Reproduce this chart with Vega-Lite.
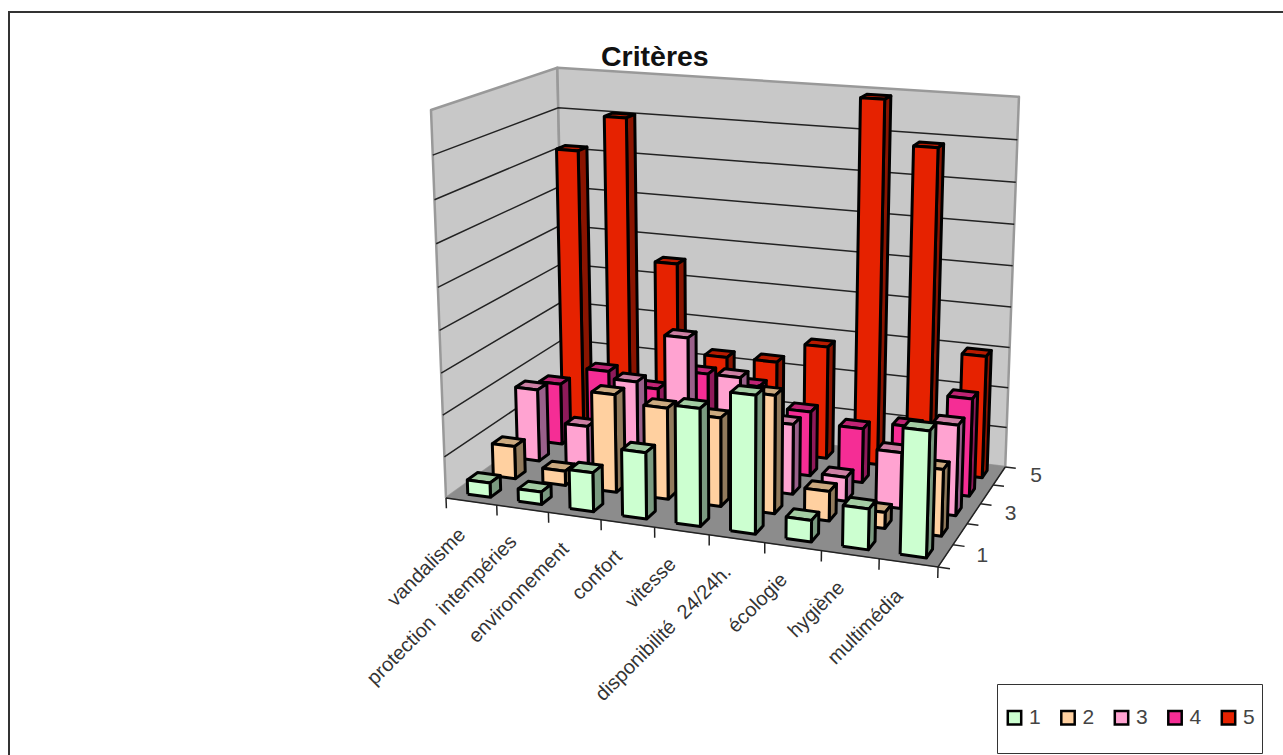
{
  "$schema": "https://vega.github.io/schema/vega-lite/v6.json",
  "width": 1276,
  "height": 745,
  "padding": {"left": 9, "top": 12, "right": 0, "bottom": 0},
  "autosize": {"type": "none"},
  "background": "white",
  "config": {
    "view": {"stroke": "#333333", "strokeWidth": 2},
    "font": "Liberation Sans"
  },
  "title": {
    "text": "Critères",
    "anchor": "start",
    "frame": "group",
    "dx": 592,
    "offset": -82,
    "baseline": "alphabetic",
    "fontSize": 28.5,
    "fontWeight": "bold",
    "color": "#111111",
    "font": "Liberation Sans"
  },
  "datasets": {
    "criteres": [
      {"critere": "vandalisme", "serie": 5, "valeur": 7.14},
      {"critere": "protection  intempéries", "serie": 5, "valeur": 8.04},
      {"critere": "environnement", "serie": 5, "valeur": 4.52},
      {"critere": "confort", "serie": 5, "valeur": 2.28},
      {"critere": "vitesse", "serie": 5, "valeur": 2.3},
      {"critere": "disponibilité  24/24h.", "serie": 5, "valeur": 2.82},
      {"critere": "écologie", "serie": 5, "valeur": 8.9},
      {"critere": "hygiène", "serie": 5, "valeur": 7.86},
      {"critere": "multimédia", "serie": 5, "valeur": 3.0},
      {"critere": "vandalisme", "serie": 4, "valeur": 1.55},
      {"critere": "protection  intempéries", "serie": 4, "valeur": 2.02},
      {"critere": "environnement", "serie": 4, "valeur": 1.72},
      {"critere": "confort", "serie": 4, "valeur": 2.24},
      {"critere": "vitesse", "serie": 4, "valeur": 2.07},
      {"critere": "disponibilité  24/24h.", "serie": 4, "valeur": 1.59},
      {"critere": "écologie", "serie": 4, "valeur": 1.33},
      {"critere": "hygiène", "serie": 4, "valeur": 1.52},
      {"critere": "multimédia", "serie": 4, "valeur": 2.36},
      {"critere": "vandalisme", "serie": 3, "valeur": 1.8},
      {"critere": "protection  intempéries", "serie": 3, "valeur": 1.03},
      {"critere": "environnement", "serie": 3, "valeur": 2.29},
      {"critere": "confort", "serie": 3, "valeur": 3.5},
      {"critere": "vitesse", "serie": 3, "valeur": 2.68},
      {"critere": "disponibilité  24/24h.", "serie": 3, "valeur": 1.7},
      {"critere": "écologie", "serie": 3, "valeur": 0.58},
      {"critere": "hygiène", "serie": 3, "valeur": 1.34},
      {"critere": "multimédia", "serie": 3, "valeur": 2.15},
      {"critere": "vandalisme", "serie": 2, "valeur": 0.8},
      {"critere": "protection  intempéries", "serie": 2, "valeur": 0.35},
      {"critere": "environnement", "serie": 2, "valeur": 2.37},
      {"critere": "confort", "serie": 2, "valeur": 2.2},
      {"critere": "vitesse", "serie": 2, "valeur": 2.12},
      {"critere": "disponibilité  24/24h.", "serie": 2, "valeur": 2.8},
      {"critere": "écologie", "serie": 2, "valeur": 0.7},
      {"critere": "hygiène", "serie": 2, "valeur": 0.38},
      {"critere": "multimédia", "serie": 2, "valeur": 1.55},
      {"critere": "vandalisme", "serie": 1, "valeur": 0.35},
      {"critere": "protection  intempéries", "serie": 1, "valeur": 0.3},
      {"critere": "environnement", "serie": 1, "valeur": 0.93},
      {"critere": "confort", "serie": 1, "valeur": 1.57},
      {"critere": "vitesse", "serie": 1, "valeur": 2.75},
      {"critere": "disponibilité  24/24h.", "serie": 1, "valeur": 3.2},
      {"critere": "écologie", "serie": 1, "valeur": 0.5},
      {"critere": "hygiène", "serie": 1, "valeur": 0.94},
      {"critere": "multimédia", "serie": 1, "valeur": 2.86}
    ],
    "plans": [
      {"plan": "gauche", "ordre": 0, "c": 0, "p": 0, "h": 0},
      {"plan": "gauche", "ordre": 1, "c": 0, "p": 5, "h": 0},
      {"plan": "gauche", "ordre": 2, "c": 0, "p": 5, "h": 9},
      {"plan": "gauche", "ordre": 3, "c": 0, "p": 0, "h": 9},
      {"plan": "gauche", "ordre": 4, "c": 0, "p": 0, "h": 0},
      {"plan": "fond", "ordre": 0, "c": 0, "p": 5, "h": 0},
      {"plan": "fond", "ordre": 1, "c": 9, "p": 5, "h": 0},
      {"plan": "fond", "ordre": 2, "c": 9, "p": 5, "h": 9},
      {"plan": "fond", "ordre": 3, "c": 0, "p": 5, "h": 9},
      {"plan": "fond", "ordre": 4, "c": 0, "p": 5, "h": 0},
      {"plan": "sol", "ordre": 0, "c": 0, "p": 0, "h": 0},
      {"plan": "sol", "ordre": 1, "c": 9, "p": 0, "h": 0},
      {"plan": "sol", "ordre": 2, "c": 9, "p": 5, "h": 0},
      {"plan": "sol", "ordre": 3, "c": 0, "p": 5, "h": 0},
      {"plan": "sol", "ordre": 4, "c": 0, "p": 0, "h": 0}
    ],
    "traits": [
      {"trait": "g1", "ordre": 0, "c": 0, "p": 0, "h": 1},
      {"trait": "g1", "ordre": 1, "c": 0, "p": 5, "h": 1},
      {"trait": "g1", "ordre": 2, "c": 9, "p": 5, "h": 1},
      {"trait": "g2", "ordre": 0, "c": 0, "p": 0, "h": 2},
      {"trait": "g2", "ordre": 1, "c": 0, "p": 5, "h": 2},
      {"trait": "g2", "ordre": 2, "c": 9, "p": 5, "h": 2},
      {"trait": "g3", "ordre": 0, "c": 0, "p": 0, "h": 3},
      {"trait": "g3", "ordre": 1, "c": 0, "p": 5, "h": 3},
      {"trait": "g3", "ordre": 2, "c": 9, "p": 5, "h": 3},
      {"trait": "g4", "ordre": 0, "c": 0, "p": 0, "h": 4},
      {"trait": "g4", "ordre": 1, "c": 0, "p": 5, "h": 4},
      {"trait": "g4", "ordre": 2, "c": 9, "p": 5, "h": 4},
      {"trait": "g5", "ordre": 0, "c": 0, "p": 0, "h": 5},
      {"trait": "g5", "ordre": 1, "c": 0, "p": 5, "h": 5},
      {"trait": "g5", "ordre": 2, "c": 9, "p": 5, "h": 5},
      {"trait": "g6", "ordre": 0, "c": 0, "p": 0, "h": 6},
      {"trait": "g6", "ordre": 1, "c": 0, "p": 5, "h": 6},
      {"trait": "g6", "ordre": 2, "c": 9, "p": 5, "h": 6},
      {"trait": "g7", "ordre": 0, "c": 0, "p": 0, "h": 7},
      {"trait": "g7", "ordre": 1, "c": 0, "p": 5, "h": 7},
      {"trait": "g7", "ordre": 2, "c": 9, "p": 5, "h": 7},
      {"trait": "g8", "ordre": 0, "c": 0, "p": 0, "h": 8},
      {"trait": "g8", "ordre": 1, "c": 0, "p": 5, "h": 8},
      {"trait": "g8", "ordre": 2, "c": 9, "p": 5, "h": 8},
      {"trait": "axe", "ordre": 0, "c": 0, "p": 0, "h": 0},
      {"trait": "axe", "ordre": 1, "c": 9, "p": 0, "h": 0},
      {"trait": "axe", "ordre": 2, "c": 9, "p": 5, "h": 0},
      {"trait": "t0", "ordre": 0, "c": 0, "p": 0, "h": 0},
      {"trait": "t0", "ordre": 1, "c": 0, "p": 0, "h": -0.25},
      {"trait": "t1", "ordre": 0, "c": 1, "p": 0, "h": 0},
      {"trait": "t1", "ordre": 1, "c": 1, "p": 0, "h": -0.25},
      {"trait": "t2", "ordre": 0, "c": 2, "p": 0, "h": 0},
      {"trait": "t2", "ordre": 1, "c": 2, "p": 0, "h": -0.25},
      {"trait": "t3", "ordre": 0, "c": 3, "p": 0, "h": 0},
      {"trait": "t3", "ordre": 1, "c": 3, "p": 0, "h": -0.25},
      {"trait": "t4", "ordre": 0, "c": 4, "p": 0, "h": 0},
      {"trait": "t4", "ordre": 1, "c": 4, "p": 0, "h": -0.25},
      {"trait": "t5", "ordre": 0, "c": 5, "p": 0, "h": 0},
      {"trait": "t5", "ordre": 1, "c": 5, "p": 0, "h": -0.25},
      {"trait": "t6", "ordre": 0, "c": 6, "p": 0, "h": 0},
      {"trait": "t6", "ordre": 1, "c": 6, "p": 0, "h": -0.25},
      {"trait": "t7", "ordre": 0, "c": 7, "p": 0, "h": 0},
      {"trait": "t7", "ordre": 1, "c": 7, "p": 0, "h": -0.25},
      {"trait": "t8", "ordre": 0, "c": 8, "p": 0, "h": 0},
      {"trait": "t8", "ordre": 1, "c": 8, "p": 0, "h": -0.25},
      {"trait": "t9", "ordre": 0, "c": 9, "p": 0, "h": 0},
      {"trait": "t9", "ordre": 1, "c": 9, "p": 0, "h": -0.25},
      {"trait": "d0", "ordre": 0, "c": 9, "p": 0, "h": 0},
      {"trait": "d0", "ordre": 1, "c": 9.2, "p": 0, "h": 0},
      {"trait": "d1", "ordre": 0, "c": 9, "p": 1, "h": 0},
      {"trait": "d1", "ordre": 1, "c": 9.2, "p": 1, "h": 0},
      {"trait": "d2", "ordre": 0, "c": 9, "p": 2, "h": 0},
      {"trait": "d2", "ordre": 1, "c": 9.2, "p": 2, "h": 0},
      {"trait": "d3", "ordre": 0, "c": 9, "p": 3, "h": 0},
      {"trait": "d3", "ordre": 1, "c": 9.2, "p": 3, "h": 0},
      {"trait": "d4", "ordre": 0, "c": 9, "p": 4, "h": 0},
      {"trait": "d4", "ordre": 1, "c": 9.2, "p": 4, "h": 0},
      {"trait": "d5", "ordre": 0, "c": 9, "p": 5, "h": 0},
      {"trait": "d5", "ordre": 1, "c": 9.2, "p": 5, "h": 0}
    ]
  },
  "layer": [
    {
      "description": "Walls of the 3D box",
      "data": {"name": "plans"},
      "transform": [
        {"filter": "datum.plan != 'sol'"},
        {"calculate": "(446+417*datum.c/9+192.5*datum.p/5-36.55*datum.h/9)/(1-0.08*datum.c/9+0.13*datum.p/5-0.05*datum.h/9)", "as": "px"},
        {"calculate": "(498+23.64*datum.c/9-31.3*datum.p/5-393.5*datum.h/9)/(1-0.08*datum.c/9+0.13*datum.p/5-0.05*datum.h/9)", "as": "py"}
      ],
      "mark": {"type": "line", "filled": true, "fill": "#c8c8c8", "stroke": "#999999", "strokeWidth": 2.5, "strokeJoin": "round"},
      "encoding": {
        "x": {"field": "px", "type": "quantitative", "scale": {"domain": [9, 1285], "nice": false, "zero": false}, "axis": null},
        "y": {"field": "py", "type": "quantitative", "scale": {"domain": [757, 12], "nice": false, "zero": false}, "axis": null},
        "detail": {"field": "plan"},
        "order": {"field": "ordre"}
      }
    },
    {
      "description": "Floor of the 3D box",
      "data": {"name": "plans"},
      "transform": [
        {"filter": "datum.plan == 'sol'"},
        {"calculate": "(446+417*datum.c/9+192.5*datum.p/5-36.55*datum.h/9)/(1-0.08*datum.c/9+0.13*datum.p/5-0.05*datum.h/9)", "as": "px"},
        {"calculate": "(498+23.64*datum.c/9-31.3*datum.p/5-393.5*datum.h/9)/(1-0.08*datum.c/9+0.13*datum.p/5-0.05*datum.h/9)", "as": "py"}
      ],
      "mark": {"type": "line", "filled": true, "fill": "#8c8c8c", "stroke": "#8c8c8c", "strokeWidth": 1},
      "encoding": {
        "x": {"field": "px", "type": "quantitative"},
        "y": {"field": "py", "type": "quantitative"},
        "detail": {"field": "plan"},
        "order": {"field": "ordre"}
      }
    },
    {
      "description": "Gridlines, floor axes and ticks",
      "data": {"name": "traits"},
      "transform": [
        {"calculate": "(446+417*datum.c/9+192.5*datum.p/5-36.55*datum.h/9)/(1-0.08*datum.c/9+0.13*datum.p/5-0.05*datum.h/9)", "as": "px"},
        {"calculate": "(498+23.64*datum.c/9-31.3*datum.p/5-393.5*datum.h/9)/(1-0.08*datum.c/9+0.13*datum.p/5-0.05*datum.h/9)", "as": "py"}
      ],
      "mark": {"type": "line", "stroke": "#222222", "strokeWidth": 1.5},
      "encoding": {
        "x": {"field": "px", "type": "quantitative"},
        "y": {"field": "py", "type": "quantitative"},
        "detail": {"field": "trait"},
        "order": {"field": "ordre"}
      }
    },
    {
      "description": "Bar faces, painted from the back row to the front row",
      "data": {"name": "criteres"},
      "transform": [
        {"calculate": "indexof(['vandalisme','protection  intempéries','environnement','confort','vitesse','disponibilité  24/24h.','écologie','hygiène','multimédia'], datum.critere)", "as": "rang"},
        {"calculate": "['dessus','cote','face']", "as": "cote"},
        {"flatten": ["cote"]},
        {"calculate": "[0,1,2,3,4]", "as": "ordre"},
        {"flatten": ["ordre"]},
        {"calculate": "datum.ordre % 4", "as": "k"},
        {"calculate": "datum.rang + 0.5 + 0.225 * (datum.cote == 'cote' ? 1 : [-1,1,1,-1][datum.k])", "as": "c"},
        {"calculate": "datum.serie - 0.5 + 0.2 * (datum.cote == 'face' ? -1 : datum.cote == 'cote' ? [-1,1,1,-1][datum.k] : [-1,-1,1,1][datum.k])", "as": "p"},
        {"calculate": "datum.cote == 'dessus' ? datum.valeur : datum.valeur * [0,0,1,1][datum.k]", "as": "h"},
        {"calculate": "(446+417*datum.c/9+192.5*datum.p/5-36.55*datum.h/9)/(1-0.08*datum.c/9+0.13*datum.p/5-0.05*datum.h/9)", "as": "px"},
        {"calculate": "(498+23.64*datum.c/9-31.3*datum.p/5-393.5*datum.h/9)/(1-0.08*datum.c/9+0.13*datum.p/5-0.05*datum.h/9)", "as": "py"},
        {"calculate": "datum.cote == 'face' ? '' + datum.serie : datum.serie + ' ' + datum.cote", "as": "teinte"},
        {"calculate": "datum.serie + '-' + datum.rang + '-' + datum.cote", "as": "piece"}
      ],
      "mark": {"type": "line", "filled": true, "stroke": "#000000", "strokeWidth": 3, "strokeJoin": "round"},
      "encoding": {
        "x": {"field": "px", "type": "quantitative"},
        "y": {"field": "py", "type": "quantitative"},
        "detail": {"field": "piece"},
        "order": {"field": "ordre"},
        "color": {
          "field": "teinte",
          "type": "nominal",
          "scale": {
            "domain": ["1","2","3","4","5","1 cote","2 cote","3 cote","4 cote","5 cote","1 dessus","2 dessus","3 dessus","4 dessus","5 dessus"],
            "range": ["#ccffd0","#ffd0a0","#ffa3d1","#f52d95","#e62200","#7a9a80","#917a5c","#99608a","#8f1a5a","#8a1400","#a3cca3","#ccaa80","#cc7fa3","#c02475","#b81b00"]
          },
          "legend": {
            "values": ["1","2","3","4","5"],
            "title": " ",
            "titleFontSize": 10,
            "titleLineHeight": 10,
            "titlePadding": 6,
            "orient": "none",
            "legendX": 988,
            "legendY": 672,
            "direction": "horizontal",
            "columns": 5,
            "padding": 7,
            "strokeColor": "#333333",
            "fillColor": "white",
            "symbolType": "square",
            "symbolSize": 180,
            "symbolStrokeColor": "#000000",
            "symbolStrokeWidth": 2.5,
            "symbolOpacity": 1,
            "labelFontSize": 21,
            "labelFont": "Liberation Sans",
            "labelColor": "#444444",
            "labelOffset": 4,
            "columnPadding": 14.5,
            "encode": {
              "labels": {"update": {"text": {"signal": "[' ', datum.label, ' ']"}, "lineHeight": {"value": 18}, "dy": {"value": -18}}}
            }
          }
        }
      }
    },
    {
      "description": "Category names under the front edge",
      "data": {"name": "criteres"},
      "transform": [
        {"filter": "datum.serie == 1"},
        {"calculate": "indexof(['vandalisme','protection  intempéries','environnement','confort','vitesse','disponibilité  24/24h.','écologie','hygiène','multimédia'], datum.critere) + 0.5", "as": "c"},
        {"calculate": "(446+417*datum.c/9)/(1-0.08*datum.c/9)", "as": "px"},
        {"calculate": "(498+23.64*datum.c/9)/(1-0.08*datum.c/9)", "as": "py"},
        {"calculate": "replace(datum.critere, '  ', ' \u00a0')", "as": "etiquette"}
      ],
      "mark": {"type": "text", "align": "right", "baseline": "middle", "angle": 315, "dx": -27.5, "dy": 15, "fontSize": 20, "font": "Liberation Sans", "color": "#333333"},
      "encoding": {
        "x": {"field": "px", "type": "quantitative"},
        "y": {"field": "py", "type": "quantitative"},
        "text": {"field": "etiquette"}
      }
    },
    {
      "description": "Series names along the right floor edge",
      "data": {"name": "criteres"},
      "transform": [
        {"filter": "datum.critere == 'multimédia' && datum.serie % 2 == 1"},
        {"calculate": "(datum.serie - 0.5) / 5", "as": "v"},
        {"calculate": "(446+417+192.5*datum.v)/(0.92+0.13*datum.v)", "as": "px"},
        {"calculate": "(498+23.64-31.3*datum.v)/(0.92+0.13*datum.v)", "as": "py"}
      ],
      "mark": {"type": "text", "align": "left", "baseline": "middle", "dx": 31, "fontSize": 21, "font": "Liberation Sans", "color": "#444444"},
      "encoding": {
        "x": {"field": "px", "type": "quantitative"},
        "y": {"field": "py", "type": "quantitative"},
        "text": {"field": "serie", "type": "nominal"}
      }
    }
  ]
}
